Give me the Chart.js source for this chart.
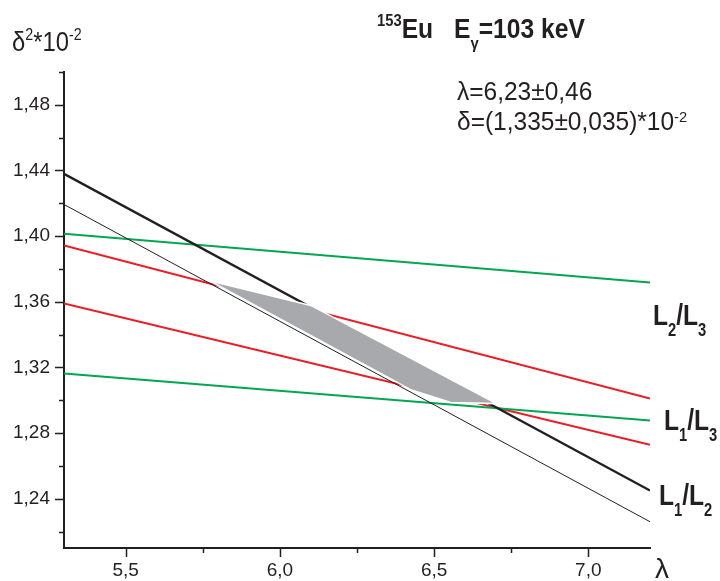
<!DOCTYPE html>
<html>
<head>
<meta charset="utf-8">
<script src="https://cdn.jsdelivr.net/npm/chart.js@4.4.1/dist/chart.umd.min.js"></script>
<style>
  html, body { margin: 0; padding: 0; background: #fff; }
  #wrap { position: relative; width: 720px; height: 581px; overflow: hidden; }
  canvas { position: absolute; left: 0; top: 0; }
  .txt { position: absolute; white-space: nowrap; line-height: 1; color: #231f20;
         font-family: "Liberation Sans", Arial, sans-serif; transform-origin: 0 0; }
  .b { font-weight: bold; }
  .sup { font-size: 0.6em; position: relative; }
  .sub { font-size: 0.6em; position: relative; }
</style>
</head>
<body>
<div id="wrap">
  <canvas id="chart" width="720" height="581"></canvas>

  <!-- подписи осей и заголовок -->
  <div class="txt" style="left:12px;top:28px;font-size:28px;transform:scaleX(0.85)">δ<span class="sup" style="top:-0.68em">2</span>*10<span class="sup" style="top:-0.68em">-2</span></div>
  <div class="txt b" style="left:377px;top:15px;font-size:28px;transform:scaleX(0.88)"><span class="sup" style="top:-0.7em">153</span>Eu</div>
  <div class="txt b" style="left:454px;top:15px;font-size:28px;transform:scaleX(0.88)">E<span class="sub" style="top:0.65em">γ</span>=103 keV</div>
  <div class="txt" style="left:457px;top:79px;font-size:25px;transform:scaleX(0.98)">λ=6,23±0,46</div>
  <div class="txt" style="left:457px;top:109px;font-size:25px;transform:scaleX(0.98)">δ=(1,335±0,035)*10<span class="sup" style="top:-0.55em">-2</span></div>

  <div class="txt b" style="left:653px;top:300px;font-size:30px;transform:scaleX(0.82)">L<span class="sub" style="top:0.6em">2</span>/L<span class="sub" style="top:0.6em">3</span></div>
  <div class="txt b" style="left:664px;top:405px;font-size:30px;transform:scaleX(0.82)">L<span class="sub" style="top:0.6em">1</span>/L<span class="sub" style="top:0.6em">3</span></div>
  <div class="txt b" style="left:659px;top:480px;font-size:30px;transform:scaleX(0.82)">L<span class="sub" style="top:0.6em">1</span>/L<span class="sub" style="top:0.6em">2</span></div>

  <div class="txt" style="left:655px;top:555px;font-size:28px">λ</div>
</div>

<script>
// концы прямых по оси λ
const lambdaEnds = [5.3, 7.2];

// значения δ² (×10^-2) на концах прямых
const blackThick = [1.438, 1.245];
const blackThin = [1.4193, 1.226];
const greenUpper = [1.4015, 1.3718];
const greenLower = [1.3163, 1.2877];
const redUpper = [1.3943, 1.3011];
const redLower = [1.359, 1.2729];

// область решения (серый многоугольник)
const regionLambda = [5.772, 6.100, 6.702, 6.554, 6.424, 5.772];
const regionDelta = [1.3728, 1.3578, 1.2980, 1.2986, 1.3065, 1.3728];

// деления осей
const xMajor = [5.5, 6.0, 6.5, 7.0];
const xMinor = [5.75, 6.25, 6.75];
const yMajor = [1.24, 1.28, 1.32, 1.36, 1.40, 1.44, 1.48];
const yMinor = [1.22, 1.26, 1.30, 1.34, 1.38, 1.42, 1.46, 1.50];

const axisColor = '#231f20';
const tickFont = { family: '"Liberation Sans", Arial', size: 19 };

function toPoints(xs, ys) {
    return xs.map((x, i) => ({ x: x, y: ys[i] }));
}

function lineSet(values, color, width) {
    return {
        data: toPoints(lambdaEnds, values),
        borderColor: color,
        borderWidth: width,
        pointRadius: 0,
        fill: false,
        order: 1
    };
}

// засечки: большие и малые
const tickMarks = {
    id: 'tickMarks',
    afterDraw(chart) {
        const { ctx, chartArea, scales } = chart;
        ctx.save();
        ctx.strokeStyle = axisColor;
        ctx.lineWidth = 1.5;
        ctx.beginPath();
        xMajor.forEach(v => {
            const px = Math.round(scales.x.getPixelForValue(v)) + 0.5;
            ctx.moveTo(px, chartArea.bottom);
            ctx.lineTo(px, chartArea.bottom + 9);
        });
        xMinor.forEach(v => {
            const px = Math.round(scales.x.getPixelForValue(v)) + 0.5;
            ctx.moveTo(px, chartArea.bottom);
            ctx.lineTo(px, chartArea.bottom + 5);
        });
        yMajor.forEach(v => {
            const py = Math.round(scales.y.getPixelForValue(v)) + 0.5;
            ctx.moveTo(chartArea.left, py);
            ctx.lineTo(chartArea.left - 9, py);
        });
        yMinor.forEach(v => {
            const py = Math.round(scales.y.getPixelForValue(v)) + 0.5;
            ctx.moveTo(chartArea.left, py);
            ctx.lineTo(chartArea.left - 5, py);
        });
        ctx.stroke();
        ctx.restore();
    }
};

const ctx = document.getElementById('chart').getContext('2d');
new Chart(ctx, {
    type: 'line',
    data: {
        datasets: [
            {
                data: toPoints(regionLambda, regionDelta),
                borderColor: '#ffffff',
                borderWidth: 1.5,
                backgroundColor: '#a7a9ac',
                pointRadius: 0,
                fill: 'shape',
                order: 0
            },
            lineSet(blackThick, axisColor, 2.4),
            lineSet(blackThin, axisColor, 1),
            lineSet(greenUpper, '#00a651', 2),
            lineSet(greenLower, '#00a651', 2),
            lineSet(redUpper, '#ed1c24', 2),
            lineSet(redLower, '#ed1c24', 2)
        ]
    },
    options: {
        responsive: false,
        animation: false,
        devicePixelRatio: 1,
        layout: { padding: { left: 0, top: 72, right: 70, bottom: 0 } },
        plugins: { legend: { display: false }, tooltip: { enabled: false } },
        elements: { line: { tension: 0 } },
        scales: {
            x: {
                type: 'linear',
                min: 5.3,
                max: 7.2,
                grid: { display: false, drawTicks: false },
                border: { display: true, color: axisColor, width: 2 },
                afterBuildTicks: s => { s.ticks = xMajor.map(v => ({ value: v })); },
                afterFit: s => { s.height = 33; },
                ticks: {
                    padding: 11,
                    maxRotation: 0,
                    autoSkip: false,
                    color: axisColor,
                    font: tickFont,
                    callback: v => v.toFixed(1).replace('.', ',')
                }
            },
            y: {
                type: 'linear',
                min: 1.21,
                max: 1.50,
                grid: { display: false, drawTicks: false },
                border: { display: true, color: axisColor, width: 2 },
                afterBuildTicks: s => { s.ticks = yMajor.map(v => ({ value: v })); },
                afterFit: s => { s.width = 64; },
                ticks: {
                    padding: 14,
                    color: axisColor,
                    font: tickFont,
                    callback: v => v.toFixed(2).replace('.', ',')
                }
            }
        }
    },
    plugins: [tickMarks]
});
</script>
</body>
</html>
